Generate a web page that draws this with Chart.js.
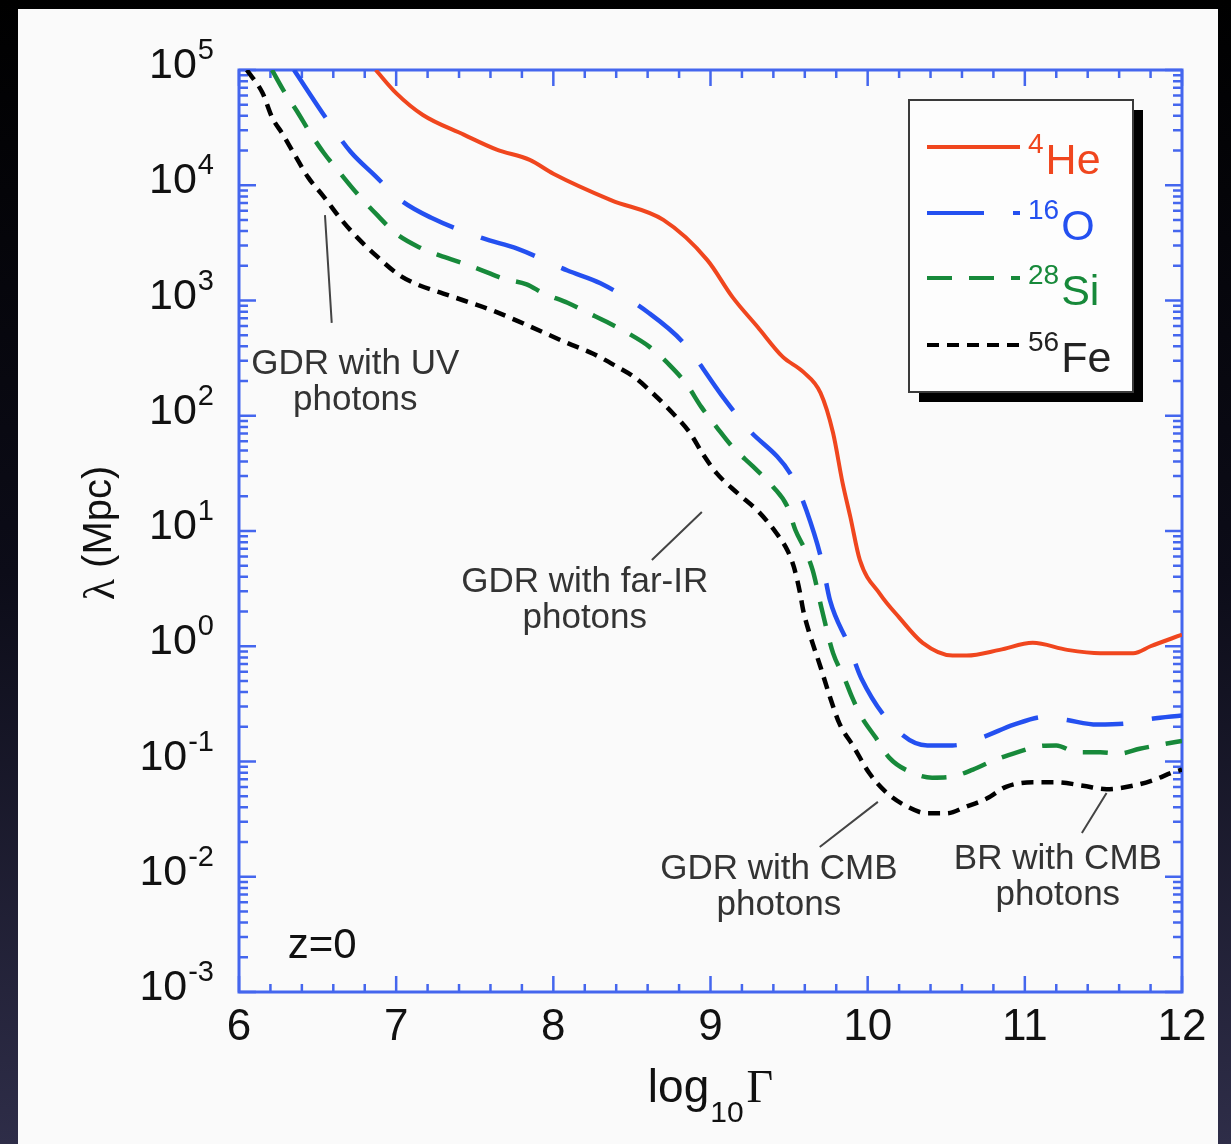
<!DOCTYPE html>
<html>
<head>
<meta charset="utf-8">
<title>Energy loss length vs Lorentz factor</title>
<script src="https://cdn.jsdelivr.net/npm/chart.js@4.4.1/dist/chart.umd.min.js"></script>
<style>
  html, body { margin: 0; padding: 0; background: #000; }
  canvas { display: block; }
</style>
</head>
<body>
<canvas id="lossChart" width="1231" height="1144" style="width:1231px;height:1144px"></canvas>
<script>
// log10(Gamma) and lambda (Mpc), one pair of arrays per nucleus
const gammaHe = [6.87, 7.00, 7.17, 7.43, 7.64, 7.85, 8.00, 8.37, 8.70, 8.98, 9.14, 9.30, 9.46, 9.59, 9.70, 9.78, 9.84, 9.89, 9.95, 10.08, 10.20, 10.35, 10.54, 10.63, 10.84, 11.05, 11.27, 11.48, 11.69, 11.80, 12.00];
const lambdaHe = [100000, 63000, 40700, 27500, 20400, 16600, 12600, 7400, 5000, 2240, 1070, 589, 324, 240, 158, 70.8, 26.3, 13.2, 5.62, 2.82, 1.78, 1.07, 0.83, 0.83, 0.93, 1.07, 0.93, 0.87, 0.87, 1.0, 1.26];

const gammaO = [6.35, 6.56, 6.71, 6.86, 7.03, 7.22, 7.55, 7.77, 8.09, 8.30, 8.61, 8.83, 9.07, 9.23, 9.52, 9.61, 9.71, 9.76, 9.88, 9.96, 10.19, 10.38, 10.54, 10.73, 10.93, 11.14, 11.27, 11.46, 11.65, 11.80, 12.00];
const lambdaO = [100000, 37150, 19500, 12300, 7410, 5250, 3470, 2820, 1820, 1410, 776, 427, 151, 79.4, 29.5, 15.1, 5.37, 2.51, 1.02, 0.525, 0.186, 0.138, 0.138, 0.162, 0.209, 0.245, 0.229, 0.209, 0.214, 0.234, 0.251];

const gammaSi = [6.21, 6.28, 6.37, 6.45, 6.54, 6.64, 6.75, 6.88, 7.00, 7.15, 7.28, 7.41, 7.55, 7.68, 7.83, 7.94, 8.09, 8.21, 8.36, 8.47, 8.61, 8.74, 8.85, 8.94, 9.04, 9.14, 9.27, 9.40, 9.49, 9.54, 9.60, 9.65, 9.71, 9.78, 9.85, 9.90, 9.96, 10.05, 10.14, 10.27, 10.41, 10.54, 10.67, 10.80, 10.95, 11.08, 11.20, 11.33, 11.48, 11.60, 11.73, 11.88, 12.00];
const lambdaSi = [100000, 67600, 43650, 28840, 19050, 12900, 8510, 5500, 3800, 2880, 2450, 2140, 1820, 1550, 1380, 1150, 955, 794, 631, 525, 398, 275, 186, 120, 79.4, 53.7, 36.3, 24.0, 16.2, 10.2, 6.92, 4.57, 2.04, 0.871, 0.537, 0.363, 0.245, 0.162, 0.107, 0.0813, 0.0724, 0.0741, 0.0851, 0.102, 0.120, 0.135, 0.138, 0.120, 0.120, 0.117, 0.129, 0.141, 0.151];

const gammaFe = [6.05, 6.15, 6.21, 6.28, 6.36, 6.44, 6.54, 6.64, 6.75, 6.88, 7.02, 7.15, 7.30, 7.43, 7.60, 7.81, 8.09, 8.25, 8.40, 8.51, 8.63, 8.76, 8.87, 8.95, 9.04, 9.17, 9.31, 9.42, 9.49, 9.53, 9.57, 9.59, 9.63, 9.70, 9.76, 9.82, 9.91, 10.01, 10.12, 10.25, 10.38, 10.50, 10.63, 10.76, 10.88, 11.05, 11.20, 11.37, 11.52, 11.69, 11.82, 11.95, 12.00];
const lambdaFe = [100000, 63100, 38900, 27500, 17800, 11700, 7940, 5250, 3550, 2400, 1660, 1350, 1150, 1000, 832, 631, 427, 347, 269, 219, 158, 105, 70.8, 46.8, 31.6, 21.4, 14.5, 9.55, 6.76, 4.90, 2.88, 2.04, 1.29, 0.661, 0.363, 0.214, 0.135, 0.0794, 0.0537, 0.0407, 0.0355, 0.0355, 0.0407, 0.0479, 0.0603, 0.0661, 0.0661, 0.0617, 0.0575, 0.0617, 0.0692, 0.0813, 0.0851];

// legend labels: mass number (superscript) and element
const massNumbers = ['4', '16', '28', '56'];
const elements = ['He', 'O', 'Si', 'Fe'];

// tick labels
const xTickLabels = ['6', '7', '8', '9', '10', '11', '12'];
const yTickExponents = ['5', '4', '3', '2', '1', '0', '-1', '-2', '-3'];

// annotations: text lines, text anchor (log10 Gamma, lambda), leader line ends
const noteText = [['GDR with UV', 'photons'], ['GDR with far-IR', 'photons'], ['GDR with CMB', 'photons'], ['BR with CMB', 'photons']];
const noteGamma = [6.74, 8.20, 9.435, 11.21];
const noteLambda = [230, 2.96, 0.00955, 0.01167];
const leaderFrom = [[6.547, 5500], [8.945, 14.6], [10.065, 0.0446], [11.52, 0.0533]];
const leaderTo = [[6.59, 640], [8.627, 5.6], [9.695, 0.0181], [11.363, 0.024]];
const redshiftLabel = 'z=0';
const redshiftAt = [6.31, 0.00197];

const SANS = '"Liberation Sans", Arial, Helvetica, sans-serif';
const SERIF = '"Liberation Serif", "Times New Roman", serif';
const AXIS_BLUE = '#4466ee';

function toPoints(xs, ys) {
    return xs.map((v, i) => ({ x: v, y: ys[i] }));
}

// dark slide background and the light panel behind the figure
const backdrop = {
    id: 'backdrop',
    beforeDraw(chart) {
        const ctx = chart.ctx;
        const g = ctx.createLinearGradient(0, 0, 0, chart.height);
        g.addColorStop(0, '#000000');
        g.addColorStop(0.5, '#0c0c18');
        g.addColorStop(1, '#2e2d48');
        ctx.save();
        ctx.fillStyle = g;
        ctx.fillRect(0, 0, chart.width, chart.height);
        ctx.fillStyle = '#fafafa';
        ctx.fillRect(18, 9, 1200, chart.height - 9);
        ctx.restore();
    }
};

// box, inward ticks, tick labels and axis titles
const frame = {
    id: 'frame',
    beforeDatasetsDraw(chart) {
        const { ctx, chartArea: a } = chart;
        const x = chart.scales.x, y = chart.scales.y;
        ctx.save();
        ctx.strokeStyle = AXIS_BLUE;
        ctx.lineWidth = 2.5;
        ctx.beginPath();
        for (let i = 0; i <= 30; i++) {
            const v = 6 + i * 0.2;
            const px = x.getPixelForValue(v);
            const len = i % 5 === 0 ? 16 : 8;
            ctx.moveTo(px, a.bottom); ctx.lineTo(px, a.bottom - len);
            ctx.moveTo(px, a.top); ctx.lineTo(px, a.top + len);
        }
        for (let e = -3; e <= 5; e++) {
            for (let m = 1; m <= 9; m++) {
                if (e === 5 && m > 1) break;
                const py = y.getPixelForValue(m * Math.pow(10, e));
                const len = m === 1 ? 17 : 9;
                ctx.moveTo(a.left, py); ctx.lineTo(a.left + len, py);
                ctx.moveTo(a.right, py); ctx.lineTo(a.right - len, py);
            }
        }
        ctx.stroke();
        ctx.lineWidth = 3;
        ctx.strokeRect(a.left, a.top, a.right - a.left, a.bottom - a.top);

        // x tick labels
        ctx.fillStyle = '#111';
        ctx.font = '44px ' + SANS;
        ctx.textAlign = 'center';
        ctx.textBaseline = 'alphabetic';
        xTickLabels.forEach(t => {
            ctx.fillText(t, x.getPixelForValue(Number(t)), a.bottom + 48);
        });

        // y tick labels 10^n
        ctx.textAlign = 'left';
        yTickExponents.forEach(t => {
            const py = y.getPixelForValue(Math.pow(10, Number(t)));
            ctx.font = '29px ' + SANS;
            const expW = ctx.measureText(t).width;
            ctx.font = '43px ' + SANS;
            const baseW = ctx.measureText('10').width;
            const right = a.left - 25;
            ctx.fillText('10', right - expW - 1 - baseW, py + 8);
            ctx.font = '29px ' + SANS;
            ctx.fillText(t, right - expW, py - 11);
        });

        // y title
        ctx.save();
        ctx.translate(100, (a.top + a.bottom) / 2 + 2);
        ctx.rotate(-Math.PI / 2);
        ctx.font = '44px ' + SERIF;
        const lw = ctx.measureText('\u03bb').width;
        ctx.font = '40px ' + SANS;
        const rw = ctx.measureText(' (Mpc)').width;
        ctx.textBaseline = 'middle';
        ctx.font = '44px ' + SERIF;
        ctx.fillText('\u03bb', -(lw + rw) / 2, 2);
        ctx.font = '40px ' + SANS;
        ctx.fillText(' (Mpc)', -(lw + rw) / 2 + lw, 0);
        ctx.restore();

        // x title log10 Gamma
        ctx.font = '46px ' + SANS;
        const w1 = ctx.measureText('log').width;
        ctx.font = '30px ' + SANS;
        const w2 = ctx.measureText('10').width;
        ctx.font = '46px ' + SERIF;
        const w3 = ctx.measureText('\u0393').width;
        let sx = x.getPixelForValue(9) - (w1 + w2 + w3 + 4) / 2;
        const base = a.bottom + 110;
        ctx.font = '46px ' + SANS;
        ctx.fillText('log', sx, base);
        ctx.font = '30px ' + SANS;
        ctx.fillText('10', sx + w1 + 1, base + 20);
        ctx.font = '46px ' + SERIF;
        ctx.fillText('\u0393', sx + w1 + w2 + 4, base);
        ctx.restore();
    }
};

// annotations and the boxed legend with drop shadow
const overlay = {
    id: 'overlay',
    afterDatasetsDraw(chart) {
        const { ctx } = chart;
        const x = chart.scales.x, y = chart.scales.y;
        ctx.save();
        ctx.strokeStyle = '#444';
        ctx.lineWidth = 2;
        ctx.beginPath();
        leaderFrom.forEach((p, i) => {
            ctx.moveTo(x.getPixelForValue(p[0]), y.getPixelForValue(p[1]));
            ctx.lineTo(x.getPixelForValue(leaderTo[i][0]), y.getPixelForValue(leaderTo[i][1]));
        });
        ctx.stroke();

        ctx.fillStyle = '#333';
        ctx.font = '35px ' + SANS;
        ctx.textAlign = 'center';
        noteText.forEach((lines, i) => {
            const cx = x.getPixelForValue(noteGamma[i]);
            const cy = y.getPixelForValue(noteLambda[i]);
            lines.forEach((s, k) => ctx.fillText(s, cx, cy + k * 36));
        });
        ctx.fillStyle = '#111';
        ctx.font = '42px ' + SANS;
        ctx.textAlign = 'left';
        ctx.fillText(redshiftLabel, x.getPixelForValue(redshiftAt[0]), y.getPixelForValue(redshiftAt[1]));

        // legend box
        const bx = 909, by = 100, bw = 224, bh = 292;
        ctx.fillStyle = '#000';
        ctx.fillRect(bx + 10, by + 10, bw, bh);
        ctx.fillStyle = '#fdfdfd';
        ctx.fillRect(bx, by, bw, bh);
        ctx.strokeStyle = '#3a3a3a';
        ctx.lineWidth = 2;
        ctx.strokeRect(bx, by, bw, bh);
        const rowY = [147, 213, 278, 345];
        chart.data.datasets.forEach((ds, i) => {
            ctx.save();
            ctx.strokeStyle = ds.borderColor;
            ctx.lineWidth = 4;
            ctx.setLineDash(ds.borderDash || []);
            ctx.beginPath();
            ctx.moveTo(bx + 18, rowY[i]);
            ctx.lineTo(bx + 111, rowY[i]);
            ctx.stroke();
            ctx.restore();
            ctx.fillStyle = ds.labelColor;
            ctx.font = '28px ' + SANS;
            const sw = ctx.measureText(massNumbers[i]).width;
            ctx.fillText(massNumbers[i], bx + 119, rowY[i] + 6);
            ctx.font = '43px ' + SANS;
            ctx.fillText(elements[i], bx + 121 + sw, rowY[i] + 27);
        });
        ctx.restore();
    }
};

const ctx = document.getElementById('lossChart').getContext('2d');
new Chart(ctx, {
    type: 'line',
    data: {
        datasets: [
            {
                label: '4He',
                data: toPoints(gammaHe, lambdaHe),
                borderColor: '#f0461e',
                labelColor: '#f0461e',
                borderWidth: 4,
                borderDash: []
            },
            {
                label: '16O',
                data: toPoints(gammaO, lambdaO),
                borderColor: '#2450f0',
                labelColor: '#2450f0',
                borderWidth: 4.5,
                borderDash: [57, 29]
            },
            {
                label: '28Si',
                data: toPoints(gammaSi, lambdaSi),
                borderColor: '#17893a',
                labelColor: '#17893a',
                borderWidth: 4.5,
                borderDash: [25, 17]
            },
            {
                label: '56Fe',
                data: toPoints(gammaFe, lambdaFe),
                borderColor: '#000000',
                labelColor: '#222222',
                borderWidth: 4.5,
                borderDash: [12, 8]
            }
        ]
    },
    options: {
        responsive: false,
        animation: false,
        devicePixelRatio: 1,
        layout: { padding: { left: 239, top: 70, right: 49, bottom: 152 } },
        elements: {
            point: { radius: 0 },
            line: { cubicInterpolationMode: 'monotone', fill: false }
        },
        plugins: {
            legend: { display: false },
            tooltip: { enabled: false }
        },
        scales: {
            x: { type: 'linear', min: 6, max: 12, display: false },
            y: { type: 'logarithmic', min: 0.001, max: 100000, display: false }
        }
    },
    plugins: [backdrop, frame, overlay]
});
</script>
</body>
</html>
